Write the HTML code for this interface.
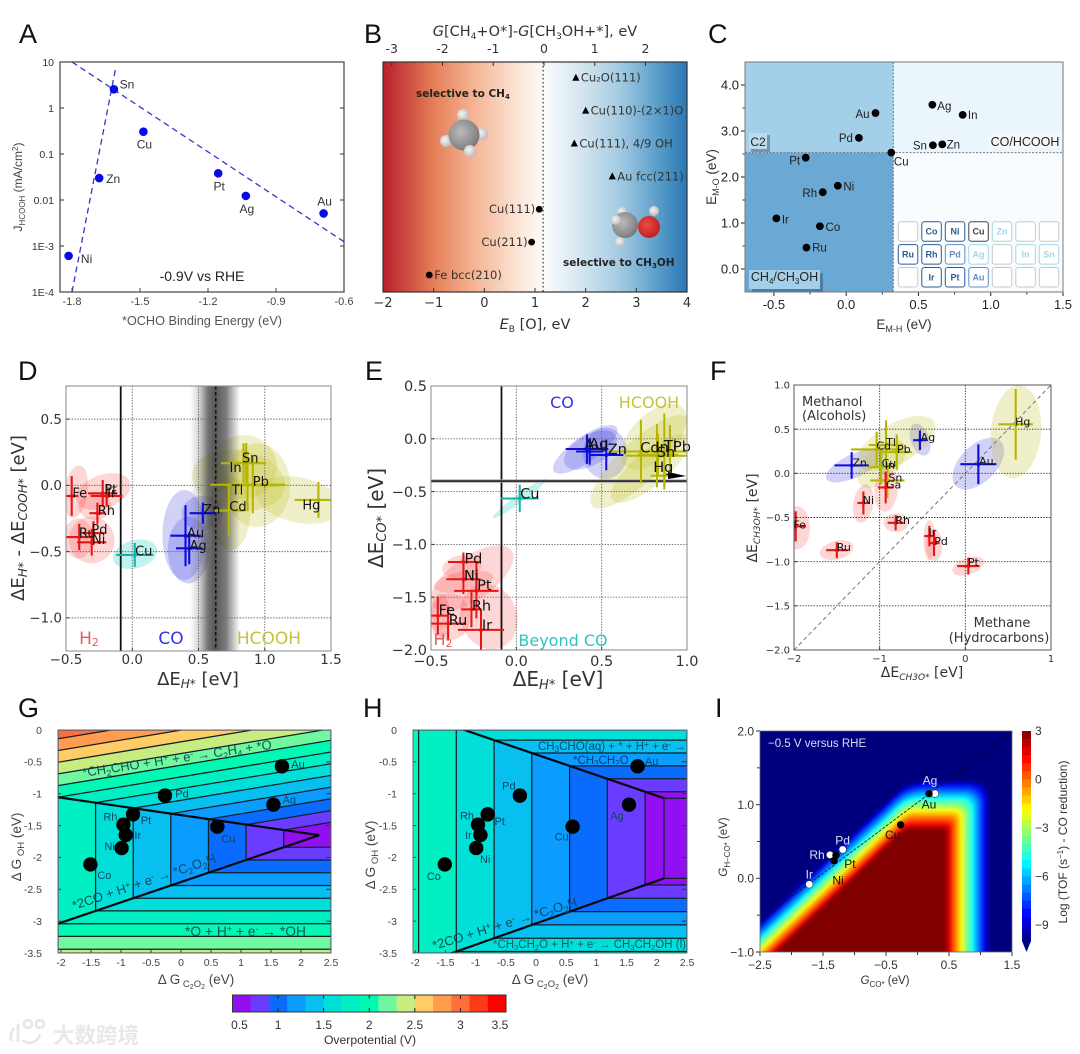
<!DOCTYPE html>
<html lang="en">
<head>
<meta charset="utf-8">
<title>Catalyst descriptor panels A-I</title>
<style>
html,body{margin:0;padding:0;background:#fff;}
#figure{display:block;width:1080px;height:1054px;filter:blur(.3px);}
text{font-family:"Liberation Sans","Noto Sans CJK SC",sans-serif;}
.dj,.dj text{font-family:"DejaVu Sans","Liberation Sans",sans-serif;}
.letter{font-size:27px;fill:#111;}
</style>
</head>
<body>
<svg id="figure" xmlns="http://www.w3.org/2000/svg" width="1080" height="1054" viewBox="0 0 1080 1054">
<defs>
<linearGradient id="bGrad" x1="0" x2="1" y1="0" y2="0">
<stop offset="0" stop-color="#b91f2b"/><stop offset=".06" stop-color="#c9413c"/><stop offset=".17" stop-color="#e58059"/><stop offset=".3" stop-color="#f5b594"/><stop offset=".42" stop-color="#fadccb"/><stop offset=".5" stop-color="#fdf4ee"/><stop offset=".54" stop-color="#f6fafc"/><stop offset=".65" stop-color="#d5e6f0"/><stop offset=".78" stop-color="#a3cae2"/><stop offset=".9" stop-color="#5c9fcb"/><stop offset="1" stop-color="#2a77b4"/>
</linearGradient>
<linearGradient id="dBand" x1="0" x2="1" y1="0" y2="0">
<stop offset="0" stop-color="#555" stop-opacity="0"/><stop offset=".18" stop-color="#555" stop-opacity=".25"/><stop offset=".36" stop-color="#444" stop-opacity=".75"/><stop offset=".5" stop-color="#444" stop-opacity=".9"/><stop offset=".72" stop-color="#444" stop-opacity=".7"/><stop offset="1" stop-color="#555" stop-opacity="0"/>
</linearGradient>
<radialGradient id="gC" cx=".4" cy=".4" r=".7"><stop offset="0" stop-color="#bbb"/><stop offset=".7" stop-color="#8a8a8a"/><stop offset="1" stop-color="#6a6a6a"/></radialGradient>
<radialGradient id="gH" cx=".4" cy=".4" r=".7"><stop offset="0" stop-color="#f4f4f4"/><stop offset="1" stop-color="#b4b4b4"/></radialGradient>
<radialGradient id="gO" cx=".4" cy=".4" r=".7"><stop offset="0" stop-color="#ee4a40"/><stop offset="1" stop-color="#b81c1c"/></radialGradient>
<clipPath id="clipA"><rect x="60" y="62" width="284" height="230"/></clipPath>
<clipPath id="clipD"><rect x="66" y="386" width="265" height="265"/></clipPath>
<clipPath id="clipE"><rect x="431" y="386" width="256" height="264"/></clipPath>
<clipPath id="clipF"><rect x="794" y="385" width="257" height="265"/></clipPath>
<clipPath id="clipG"><rect x="58" y="730" width="273" height="223"/></clipPath>
<clipPath id="clipH"><rect x="413" y="730" width="274" height="223"/></clipPath>
<clipPath id="clipI"><rect x="760" y="731" width="252" height="221"/></clipPath>
<filter id="iBlur" x="-10%" y="-10%" width="120%" height="120%"><feGaussianBlur stdDeviation="1.6"/></filter>
</defs>

<text class="letter" x="19" y="43">A</text>
<text class="letter" x="364" y="43">B</text>
<text class="letter" x="708" y="43">C</text>
<text class="letter" x="18" y="380">D</text>
<text class="letter" x="365" y="380">E</text>
<text class="letter" x="710" y="380">F</text>
<text class="letter" x="18" y="717">G</text>
<text class="letter" x="363" y="717">H</text>
<text class="letter" x="715" y="717">I</text>

<!-- Panel A -->
<g id="panelA">
<rect x="60" y="62" width="284" height="230" fill="#fff"/>
<g id="marksA" clip-path="url(#clipA)"></g>
<g id="overA"></g>
<rect x="60" y="62" width="284" height="230" fill="none" stroke="#444" stroke-width="1.2"/>
<text x="202" y="281" text-anchor="middle" font-size="14" fill="#222">-0.9V vs RHE</text>
<text x="202" y="325" text-anchor="middle" font-size="12.7" fill="#555">*OCHO Binding Energy (eV)</text>
<text transform="translate(22,187) rotate(-90)" text-anchor="middle" font-size="12" fill="#444">J<tspan dy="3" font-size="8">HCOOH</tspan><tspan dy="-3"> (mA/cm</tspan><tspan dy="-4" font-size="8">2</tspan><tspan dy="4">)</tspan></text>
</g>

<!-- Panel B -->
<g id="panelB" class="dj">
<rect x="383" y="62" width="304" height="230" fill="url(#bGrad)"/>
<g>
<circle cx="463" cy="115" r="6" fill="url(#gH)"/><circle cx="482" cy="134" r="6" fill="url(#gH)"/><circle cx="446" cy="141" r="6" fill="url(#gH)"/>
<circle cx="464" cy="135" r="15.5" fill="url(#gC)"/><circle cx="470" cy="151" r="6" fill="url(#gH)"/>
</g>
<g>
<circle cx="622" cy="212" r="5" fill="url(#gH)"/><circle cx="620" cy="242" r="5" fill="url(#gH)"/><circle cx="654" cy="211" r="5" fill="url(#gH)"/>
<circle cx="625" cy="225" r="13" fill="url(#gC)"/><circle cx="649" cy="227" r="11" fill="url(#gO)"/><circle cx="616" cy="220" r="5" fill="url(#gH)"/>
</g>
<g id="marksB"></g>
<rect x="383" y="62" width="304" height="230" fill="none" stroke="#333" stroke-width="1.2"/>
<text x="416" y="97" font-size="10.5" font-weight="bold" fill="#222">selective to CH<tspan dy="2" font-size="7">4</tspan></text>
<text x="563" y="266" font-size="10.5" font-weight="bold" fill="#222">selective to CH<tspan dy="2" font-size="7">3</tspan><tspan dy="-2">OH</tspan></text>
<text x="535" y="36" text-anchor="middle" font-size="14.5" fill="#333"><tspan font-style="italic">G</tspan>[CH<tspan dy="3" font-size="9">4</tspan><tspan dy="-3">+O*]-</tspan><tspan font-style="italic">G</tspan>[CH<tspan dy="3" font-size="9">3</tspan><tspan dy="-3">OH+*], eV</tspan></text>
<text x="535" y="329" text-anchor="middle" font-size="14.5" fill="#333"><tspan font-style="italic">E</tspan><tspan dy="3" font-size="9">B</tspan><tspan dy="-3"> [O], eV</tspan></text>
</g>

<!-- Panel C -->
<g id="panelC">
<rect x="745" y="62" width="148.3" height="90.7" fill="#a3cfe8"/>
<rect x="745" y="152.7" width="148.3" height="139.3" fill="#6ca8d4"/>
<rect x="893.3" y="62" width="169.7" height="90.7" fill="#ebf6fc"/>
<rect x="893.3" y="152.7" width="169.7" height="139.3" fill="#f8fcff"/>
<path d="M893.3 62V292M745 152.7H1063" stroke="#667" stroke-width=".9" stroke-dasharray="2 1.5" fill="none"/>
<g><rect x="751" y="135" width="19" height="17" fill="#6f97b4"/><rect x="749" y="133" width="18" height="16" fill="#bcdcee"/><text x="758" y="146" text-anchor="middle" font-size="12" fill="#222">C2</text></g>
<g><rect x="989" y="133" width="72" height="16" fill="#f4f8fa"/><text x="1025" y="146" text-anchor="middle" font-size="12.5" fill="#222">CO/HCOOH</text></g>
<g><rect x="752" y="273" width="71" height="19" fill="#4a7ea6"/><rect x="749" y="270" width="71" height="19" fill="#a4cfe8"/><text x="784.5" y="281" text-anchor="middle" font-size="12.5" fill="#222">CH<tspan dy="3" font-size="8">4</tspan><tspan dy="-3">/CH</tspan><tspan dy="3" font-size="8">3</tspan><tspan dy="-3">OH</tspan></text></g>
<g id="marksC"></g>
<rect x="745" y="62" width="318" height="230" fill="none" stroke="#777" stroke-width="1"/>
<text x="904" y="329" text-anchor="middle" font-size="13.5" fill="#333">E<tspan dy="3" font-size="9">M-H</tspan><tspan dy="-3"> (eV)</tspan></text>
<text transform="translate(716,177) rotate(-90)" text-anchor="middle" font-size="13.5" fill="#333">E<tspan dy="3" font-size="9">M-O</tspan><tspan dy="-3"> (eV)</tspan></text>
</g>

<!-- Panel D -->
<g id="panelD" class="dj">
<g id="ellD" clip-path="url(#clipD)"></g>
<rect x="190" y="386" width="50" height="265" fill="url(#dBand)"/>
<g id="marksD" clip-path="url(#clipD)"></g>
<g id="labelsD"></g>
<rect x="66" y="386" width="265" height="265" fill="none" stroke="#888" stroke-width="1"/>
<text x="89" y="644" text-anchor="middle" font-size="17" fill="#e8585c">H<tspan dy="2" font-size="11">2</tspan></text>
<text x="171" y="644" text-anchor="middle" font-size="17" fill="#3434e0">CO</text>
<text x="269" y="644" text-anchor="middle" font-size="17" fill="#c4c43c">HCOOH</text>
<text x="198" y="685" text-anchor="middle" font-size="18" fill="#333">ΔE<tspan dy="3" font-size="12" font-style="italic">H*</tspan><tspan dy="-3">  [eV]</tspan></text>
<text transform="translate(24,518) rotate(-90)" text-anchor="middle" font-size="18" fill="#333">ΔE<tspan dy="3" font-size="12" font-style="italic">H*</tspan><tspan dy="-3"> - ΔE</tspan><tspan dy="3" font-size="12" font-style="italic">COOH*</tspan><tspan dy="-3">  [eV]</tspan></text>
</g>

<!-- Panel E -->
<g id="panelE" class="dj">
<g id="ellE" clip-path="url(#clipE)"></g>
<g id="marksE" clip-path="url(#clipE)"></g>
<polygon points="668,472 686,476 668,479" fill="#000"/>
<g id="labelsE"></g>
<rect x="431" y="386" width="256" height="264" fill="none" stroke="#888" stroke-width="1"/>
<text x="562" y="408" text-anchor="middle" font-size="16" fill="#3434e0">CO</text>
<text x="649" y="408" text-anchor="middle" font-size="16" fill="#c4c43c">HCOOH</text>
<text x="563" y="646" text-anchor="middle" font-size="16" fill="#2cc4c4">Beyond CO</text>
<text x="443" y="645" text-anchor="middle" font-size="16" fill="#e8585c">H<tspan dy="2" font-size="11">2</tspan></text>
<text x="558" y="686" text-anchor="middle" font-size="20" fill="#333">ΔE<tspan dy="3" font-size="13" font-style="italic">H*</tspan><tspan dy="-3">  [eV]</tspan></text>
<text transform="translate(383,518) rotate(-90)" text-anchor="middle" font-size="20" fill="#333">ΔE<tspan dy="3" font-size="13" font-style="italic">CO*</tspan><tspan dy="-3">  [eV]</tspan></text>
</g>

<!-- Panel F -->
<g id="panelF" class="dj">
<g id="ellF" clip-path="url(#clipF)"></g>
<g id="marksF" clip-path="url(#clipF)"></g>
<g id="labelsF"></g>
<rect x="794" y="385" width="257" height="265" fill="none" stroke="#555" stroke-width="1"/>
<text x="802" y="406" font-size="13" fill="#333">Methanol</text>
<text x="802" y="420" font-size="13" fill="#333">(Alcohols)</text>
<text x="1002" y="627" text-anchor="middle" font-size="13" fill="#333">Methane</text>
<text x="999" y="642" text-anchor="middle" font-size="13" fill="#333">(Hydrocarbons)</text>
<text x="922" y="677" text-anchor="middle" font-size="14" fill="#333">ΔE<tspan dy="3" font-size="9" font-style="italic">CH3O*</tspan><tspan dy="-3">  [eV]</tspan></text>
<text transform="translate(757,518) rotate(-90)" text-anchor="middle" font-size="14" fill="#333">ΔE<tspan dy="3" font-size="9" font-style="italic">CH3OH*</tspan><tspan dy="-3">  [eV]</tspan></text>
</g>

<!-- Panel G -->
<g id="panelG">
<g id="contG" clip-path="url(#clipG)"></g>
<g id="marksG"></g>
<rect x="58" y="730" width="273" height="223" fill="none" stroke="#667" stroke-width="1"/>
<text transform="translate(83,777) rotate(-8.5)" font-size="13" fill="#0a5a50">*CH<tspan dy="3" font-size="9">2</tspan><tspan dy="-3">CHO + H</tspan><tspan dy="-4" font-size="9">+</tspan><tspan dy="4"> + e</tspan><tspan dy="-4" font-size="9">-</tspan><tspan dy="4"> → C</tspan><tspan dy="3" font-size="9">2</tspan><tspan dy="-3">H</tspan><tspan dy="3" font-size="9">4</tspan><tspan dy="-3"> + *O</tspan></text>
<text transform="translate(74,910) rotate(-18.5)" font-size="13" fill="#0a4a60">*2CO + H<tspan dy="-4" font-size="9">+</tspan><tspan dy="4"> + e</tspan><tspan dy="-4" font-size="9">-</tspan><tspan dy="4"> → *C</tspan><tspan dy="3" font-size="9">2</tspan><tspan dy="-3">O</tspan><tspan dy="3" font-size="9">2</tspan><tspan dy="-3">H</tspan></text>
<text x="185" y="936" font-size="13.8" fill="#0a5a50">*O + H<tspan dy="-4" font-size="9">+</tspan><tspan dy="4"> + e</tspan><tspan dy="-4" font-size="9">-</tspan><tspan dy="4"> → *OH</tspan></text>
<text x="196" y="984" text-anchor="middle" font-size="13.5" fill="#444">Δ G<tspan dy="3" font-size="9.5"> C</tspan><tspan dy="2" font-size="7">2</tspan><tspan dy="-2" font-size="9.5">O</tspan><tspan dy="2" font-size="7">2</tspan><tspan dy="-5"> (eV)</tspan></text>
<text transform="translate(21,847) rotate(-90)" text-anchor="middle" font-size="13.5" fill="#444">Δ G<tspan dy="3" font-size="9.5"> OH</tspan><tspan dy="-3">  (eV)</tspan></text>
</g>

<!-- Panel H -->
<g id="panelH">
<g id="contH" clip-path="url(#clipH)"></g>
<g id="marksH"></g>
<rect x="413" y="730" width="274" height="223" fill="none" stroke="#667" stroke-width="1"/>
<text x="538" y="750" font-size="11.5" fill="#0a4a70">CH<tspan dy="2" font-size="8">3</tspan><tspan dy="-2">CHO(aq) + * + H</tspan><tspan dy="-3" font-size="8">+</tspan><tspan dy="3"> + e</tspan><tspan dy="-3" font-size="8">-</tspan><tspan dy="3"> →</tspan></text>
<text x="573" y="764" font-size="11.5" fill="#0a3a80">*CH<tspan dy="2" font-size="8">3</tspan><tspan dy="-2">CH</tspan><tspan dy="2" font-size="8">2</tspan><tspan dy="-2">O</tspan></text>
<text transform="translate(434,950) rotate(-17)" font-size="13" fill="#0a4a60">*2CO + H<tspan dy="-4" font-size="9">+</tspan><tspan dy="4"> + e</tspan><tspan dy="-4" font-size="9">-</tspan><tspan dy="4"> → *C</tspan><tspan dy="3" font-size="9">2</tspan><tspan dy="-3">O</tspan><tspan dy="3" font-size="9">2</tspan><tspan dy="-3">H</tspan></text>
<text x="493" y="948" font-size="11.5" fill="#0a5a70">*CH<tspan dy="2" font-size="7.5">3</tspan><tspan dy="-2">CH</tspan><tspan dy="2" font-size="7.5">2</tspan><tspan dy="-2">O + H</tspan><tspan dy="-3" font-size="7.5">+</tspan><tspan dy="3"> + e</tspan><tspan dy="-3" font-size="7.5">-</tspan><tspan dy="3"> → CH</tspan><tspan dy="2" font-size="7.5">3</tspan><tspan dy="-2">CH</tspan><tspan dy="2" font-size="7.5">2</tspan><tspan dy="-2">OH (l)</tspan></text>
<text x="550" y="984" text-anchor="middle" font-size="13.5" fill="#444">Δ G<tspan dy="3" font-size="9.5"> C</tspan><tspan dy="2" font-size="7">2</tspan><tspan dy="-2" font-size="9.5">O</tspan><tspan dy="2" font-size="7">2</tspan><tspan dy="-5"> (eV)</tspan></text>
<text transform="translate(375,855) rotate(-90)" text-anchor="middle" font-size="13.5" fill="#444">Δ G<tspan dy="3" font-size="9.5"> OH</tspan><tspan dy="-3">  (eV)</tspan></text>
</g>

<!-- Shared colourbar -->
<g id="overBar"></g>
<text x="370" y="1044" text-anchor="middle" font-size="12.2" fill="#333">Overpotential (V)</text>

<!-- Panel I -->
<g id="panelI">
<rect x="760" y="731" width="252" height="221" fill="#00007f"/>
<g clip-path="url(#clipI)"><g id="heatI" filter="url(#iBlur)"></g></g>
<g id="marksI"></g>
<rect x="760" y="731" width="252" height="221" fill="none" stroke="#667" stroke-width=".8"/>
<g id="barI"></g>
<text x="768" y="747" font-size="11.5" fill="#d8dcf0">−0.5 V versus RHE</text>
<text x="885" y="984" text-anchor="middle" font-size="11.5" fill="#333"><tspan font-style="italic">G</tspan><tspan dy="3" font-size="8">CO*</tspan><tspan dy="-3"> (eV)</tspan></text>
<text transform="translate(727,847) rotate(-90)" text-anchor="middle" font-size="11.5" fill="#333"><tspan font-style="italic">G</tspan><tspan dy="3" font-size="8">H–CO*</tspan><tspan dy="-3"> (eV)</tspan></text>
<text transform="translate(1067,842) rotate(-90)" text-anchor="middle" font-size="12" fill="#333">Log (TOF (s<tspan dy="-4" font-size="8">−1</tspan><tspan dy="4">) - CO reduction)</tspan></text>
</g>

<!-- Watermark -->
<g opacity=".85">
<path d="M14 1028c-3 4-4 8-3 13M18 1024v18M22 1040c8 6 16 2 18-6M28 1028a4 4 0 1 1 0.1 0M40 1028a4 4 0 1 1 0.1 0" fill="none" stroke="#e2e2e2" stroke-width="2.5"/>
<text x="53" y="1043" font-size="21.5" font-weight="bold" fill="#e4e4e4" style="font-family:'Noto Sans CJK SC',sans-serif">大数跨境</text>
</g>
</svg>

<script>
// ---------- Panel A data ----------
const aMetals = ['Sn','Cu','Zn','Ni','Pt','Ag','Au'];
const aBinding = [-1.615,-1.485,-1.68,-1.815,-1.155,-1.033,-0.69];
const aCurrent = [2.55,0.305,0.03,0.00061,0.038,0.0123,0.0051];
const aLineRightX = [-1.8,-0.6];
const aLineRightY = [10,0.00124];
const aLineLeftX = [-1.8,-1.606];
const aLineLeftY = [0.0001,8];
const aXTicks = [-1.8,-1.5,-1.2,-0.9,-0.6];
const aYTicks = [10,1,0.1,0.01,0.001,0.0001];
const aYLabels = ['10','1','0.1','0.01','1E-3','1E-4'];

// ---------- Panel B data ----------
const bSites = ['Cu₂O(111)','Cu(110)-(2×1)O','Cu(111), 4/9 OH','Au fcc(211)','Cu(111)','Cu(211)','Fe bcc(210)'];
const bEnergy = [1.807,2.0,1.776,2.525,1.084,0.934,-1.087];
const bRow = [7,6,5,4,3,2,1];
const bKind = ['tri','tri','tri','tri','dot','dot','dot'];
const bCrossover = [1.16];
const bXTicks = [-2,-1,0,1,2,3,4];
const bTopTicks = [-3,-2,-1,0,1,2];

// ---------- Panel C data ----------
const cMetals = ['Au','Ag','In','Pd','Sn','Zn','Cu','Pt','Ni','Rh','Ir','Co','Ru'];
const cEH = [0.203,0.596,0.806,0.088,0.6,0.665,0.312,-0.28,-0.058,-0.162,-0.483,-0.182,-0.275];
const cEO = [3.39,3.57,3.35,2.85,2.69,2.71,2.53,2.42,1.81,1.67,1.1,0.93,0.465];
const cXTicks = [-0.5,0,0.5,1,1.5];
const cYTicks = [0,1,2,3,4];
const cTable = [['','Co','Ni','Cu','Zn','',''],['Ru','Rh','Pd','Ag','','In','Sn'],['','Ir','Pt','Au','','','']];

// ---------- Panel D data ----------
const dNames = ['Fe','Pt','Ir','Rh','Pd','Ru','Ni','Cu','Au','Ag','Zn','Cd','Tl','In','Sn','Pb','Hg'];
const dX = [-0.457,-0.223,-0.193,-0.263,-0.293,-0.4,-0.306,0.019,0.402,0.43,0.533,0.73,0.87,0.84,0.86,0.91,1.405];
const dY = [-0.08,-0.06,-0.08,-0.21,-0.36,-0.39,-0.43,-0.525,-0.38,-0.475,-0.21,-0.19,0.005,0.167,0.17,0,-0.11];
const dXErr = [0.05,0.11,0.12,0.06,0.08,0.105,0.11,0.14,0.115,0.1,0.1,0.12,0.28,0.17,0.1,0.2,0.18];
const dYErr = [0.15,0.1,0.08,0.08,0.09,0.1,0.1,0.09,0.23,0.12,0.08,0.19,0.2,0.15,0.15,0.21,0.135];
const dGroup = ['r','r','r','r','r','r','r','t','b','b','b','y','y','y','y','y','y'];
const dEllX = [-0.424,-0.218,-0.281,-0.306,-0.407,0.021,0.392,0.424,0.53,0.739,0.802,0.84,0.941,1.256];
const dEllY = [-0.047,-0.047,-0.16,-0.412,-0.4,-0.52,-0.375,-0.488,-0.21,-0.21,0.04,0.14,0,-0.11];
const dEllMajor = [0.088,0.214,0.126,0.171,0.113,0.171,0.164,0.156,0.156,0.151,0.353,0.252,0.252,0.33];
const dEllMinor = [0.2,0.126,0.1,0.176,0.151,0.106,0.34,0.252,0.131,0.277,0.227,0.239,0.315,0.17];
const dEllTilt = [8,-20,0,0,0,-15,0,0,0,0,10,0,0,12];
const dEllGroup = ['r','r','r','r','r','t','b','b','b','y','y','y','y','y'];
const dXTicks = [-0.5,0,0.5,1,1.5];
const dYTicks = [-1,-0.5,0,0.5];

// ---------- Panel E data ----------
const eNames = ['Pd','Ni','Pt','Rh','Fe','Ru','Ir','Cu','Au','Ag','Zn','Cd','In','Tl','Sn','Pb','Hg'];
const eX = [-0.31,-0.31,-0.234,-0.263,-0.46,-0.4,-0.207,0.02,0.414,0.43,0.527,0.73,0.824,0.867,0.83,0.9,0.867];
const eY = [-1.167,-1.33,-1.44,-1.615,-1.675,-1.75,-1.81,-0.565,-0.097,-0.12,-0.153,-0.12,-0.16,-0.12,-0.15,-0.12,-0.35];
const eXErr = [0.09,0.1,0.13,0.06,0.06,0.1,0.135,0.11,0.125,0.08,0.1,0.19,0.18,0.13,0.12,0.12,0.08];
const eYErr = [0.09,0.14,0.26,0.17,0.18,0.16,0.19,0.13,0.14,0.125,0.145,0.3,0.3,0.36,0.2,0.25,0.1];
const eGroup = ['r','r','r','r','r','r','r','t','b','b','b','y','y','y','y','y','y'];
const eEllX = [0.404,0.434,0.521,0.02,0.723,0.785,0.805,-0.26,-0.318,-0.309,-0.162,-0.387,-0.445];
const eEllY = [-0.1,-0.106,-0.138,-0.564,-0.217,-0.28,0.02,-1.32,-1.211,-1.353,-1.684,-1.684,-1.684];
const eEllMajor = [0.225,0.17,0.13,0.195,0.38,0.29,0.24,0.283,0.117,0.176,0.166,0.117,0.059];
const eEllMinor = [0.075,0.09,0.15,0.024,0.12,0.1,0.13,0.127,0.068,0.059,0.195,0.137,0.137];
const eEllTilt = [-35,-30,0,-36,-43,-40,-45,-35,-10,-10,-20,0,0];
const eEllGroup = ['b','b','b','t','y','y','y','r','r','r','r','r','r'];
const eXTicks = [-0.5,0,0.5,1];
const eYTicks = [-2,-1.5,-1,-0.5,0,0.5];

// ---------- Panel F data ----------
const fNames = ['Zn','Ag','Au','Hg','Cd','Tl','Pb','Cu','In','Sn','Ga','Ni','Rh','Fe','Ru','Ir','Pd','Pt'];
const fX = [-1.327,-0.53,0.152,0.588,-1.035,-0.926,-0.8,-0.985,-0.985,-0.91,-0.93,-1.19,-0.813,-1.98,-1.5,-0.42,-0.365,0.035];
const fY = [0.09,0.375,0.103,0.555,0.27,0.32,0.24,0.085,0.07,-0.08,-0.16,-0.335,-0.56,-0.6,-0.87,-0.71,-0.79,-1.05];
const fXErr = [0.2,0.08,0.21,0.2,0.3,0.2,0.18,0.02,0.15,0.2,0.09,0.07,0.095,0.12,0.125,0.06,0.065,0.13];
const fYErr = [0.15,0.11,0.225,0.4,0.2,0.28,0.2,0.12,0.2,0.2,0.18,0.13,0.085,0.17,0.09,0.115,0.145,0.095];
const fGroup = ['b','b','b','y','y','y','y','t','y','y','r','r','r','r','r','r','r','r'];
const fEllX = [-1.288,-0.529,0.152,0.591,-0.802,-0.977,-1.191,-0.926,-0.809,-1.969,-1.502,-0.42,-0.366,0.035,-0.977];
const fEllY = [0.09,0.382,0.11,0.469,0.337,0.11,-0.342,-0.191,-0.561,-0.617,-0.87,-0.757,-0.813,-1.05,0.09];
const fEllMajor = [0.37,0.109,0.37,0.292,0.506,0.35,0.117,0.136,0.144,0.156,0.202,0.07,0.097,0.195,0.03];
const fEllMinor = [0.136,0.195,0.214,0.545,0.233,0.195,0.226,0.253,0.109,0.253,0.109,0.233,0.187,0.097,0.1];
const fEllTilt = [-25,-20,-45,5,-30,-45,10,5,0,0,-15,0,0,-20,0];
const fEllGroup = ['b','b','b','y','y','y','r','r','r','r','r','r','r','r','t'];
const fXTicks = [-2,-1,0,1];
const fYTicks = [-2,-1.5,-1,-0.5,0,0.5,1];

// ---------- Panels G / H data ----------
const ghMetals = ['Au','Pd','Ag','Pt','Cu','Rh','Ir','Ni','Co'];
const ghC2O2 = [1.683,-0.267,1.54,-0.8,0.606,-0.96,-0.92,-0.99,-1.51];
const ghOH = [-0.57,-1.03,-1.172,-1.324,-1.518,-1.486,-1.648,-1.853,-2.11];
const gPlaneConst = [1.246,2.702,-1.14];
const gPlaneSlopeX = [-0.319,-0.17,0];
const gPlaneSlopeY = [0,1.09,-1];
const gLevels = [0.7,0.9,1.1,1.3,1.5,1.7,1.9,2.1,2.3,2.5,2.7,2.9,3.1,3.3];
const gRidgeFloor = [0];
const hPlaneConst = [1.278,1.657,-1.631];
const hPlaneSlopeX = [-0.32,0,0];
const hPlaneSlopeY = [0,0.988,-0.958];
const hLevels = [0.6,0.7,0.9,1.1,1.3,1.5,1.7,1.9,2.1,2.3];
const hRidgeFloor = [0.6];
const ghXTicks = [-2,-1.5,-1,-0.5,0,0.5,1,1.5,2,2.5];
const ghYTicks = [0,-0.5,-1,-1.5,-2,-2.5,-3,-3.5];
const ghXLabels = ['-2','-1.5','-1','-0.5','0','0.5','1','1.5','2','2.5'];
const ghYLabels = ['0','-0.5','-1','-1.5','-2','-2.5','-3','-3.5'];
const overBands = ['#9010f2','#6a3cff','#0a6cff','#0a9cff','#08c0f0','#00e0d8','#00f0c4','#00fab4','#70f8a0','#c8ec80','#ffcc66','#ff9c50','#ff7038','#ff3a18','#ff0000'];
const overTicks = [0.5,1,1.5,2,2.5,3,3.5];

// ---------- Panel I data ----------
const iMetals = ['Ag','Au','Cu','Pd','Rh','Pt','Ni','Ir'];
const iGCO = [0.278,0.183,-0.267,-1.188,-1.389,-1.294,-1.325,-1.717];
const iGHCO = [1.15,1.15,0.727,0.391,0.318,0.314,0.241,-0.082];
const iOpen = [true,false,false,true,true,false,false,true];
const iScalingX = [-2.5,1.47];
const iScalingY = [-0.573,1.97];
const tofLevels = [-9,-8,-7,-6,-5,-4,-3,-2,-1,0,1,2,3];
const tofDiagX = [-1.75,-1.69,-1.63,-1.57,-1.51,-1.45,-1.39,-1.33,-1.27,-1.21,-1.15,-1.09,-1.03];
const tofTopY = [1.31,1.26,1.21,1.16,1.11,1.06,1.0,0.95,0.9,0.85,0.79,0.73,0.68];
const tofRightX = [1.124,1.056,1.003,0.95,0.897,0.844,0.78,0.727,0.675,0.622,0.569,0.526,0.463];
const tofDiagSlope = [0.816];
const iXTicks = [-2.5,-1.5,-0.5,0.5,1.5];
const iXMinor = [-2,-1,0,1];
const iYTicks = [-1,0,1,2];
const iYMinor = [-0.5,0.5,1.5];
const iBarTicks = [3,0,-3,-6,-9];
const iBarLabels = ['3','0','−3','−6','−9'];

// ---------- Label placement (pixel nudges, not data) ----------
const aNudge = {Sn:[13,-5],Cu:[1,13],Zn:[14,1],Ni:[18,3],Pt:[1,13],Ag:[1,13],Au:[1,-12]};
const cNudge = {Au:[-13,1],Ag:[12,1],In:[10,0],Pd:[-13,0],Sn:[-13,0],Zn:[11,0],Cu:[10,9],Pt:[-11,3],Ni:[11,1],Rh:[-13,1],Ir:[9,1],Co:[13,1],Ru:[13,0]};
const dNudge = {Fe:[8,-3],Pt:[8,-4],Ir:[5,-3],Rh:[9,-3],Pd:[6,-4],Ru:[8,-4],Ni:[7,-3],Cu:[9,-4],Au:[10,-3],Ag:[9,-3],Zn:[9,-4],Cd:[9,-4],Tl:[-10,5],In:[-8,4],Sn:[4,-5],Pb:[8,-4],Hg:[-7,5]};
const eNudge = {Pd:[10,-4],Ni:[8,-4],Pt:[8,-6],Rh:[10,-4],Fe:[9,-6],Ru:[10,-4],Ir:[6,-5],Cu:[10,-5],Au:[7,-5],Ag:[9,-8],Zn:[11,-6],Cd:[9,-4],In:[5,-9],Tl:[6,-6],Sn:[8,-3],Pb:[12,-5],Hg:[-1,-9]};
const fNudge = {Zn:[8,-3],Ag:[8,-3],Au:[8,-3],Hg:[7,-3],Cd:[7,-4],Tl:[5,-3],Pb:[7,-3],Cu:[8,-3],In:[9,-2],Sn:[8,-3],Ga:[8,-3],Ni:[5,-3],Rh:[7,-3],Fe:[4,-2],Ru:[7,-3],Ir:[3,-4],Pd:[7,-2],Pt:[5,-4]};
const gNudge = {Au:[16,-2],Pd:[17,-2],Ag:[16,-5],Pt:[13,6],Cu:[11,12],Rh:[-13,-8],Ir:[12,0],Ni:[-12,-2],Co:[14,11]};
const hNudge = {Au:[14,-5],Pd:[-11,-10],Ag:[-12,11],Pt:[12,7],Cu:[-11,10],Rh:[-11,-9],Ir:[-12,0],Ni:[9,11],Co:[-11,12]};
const iNudge = {Ag:[-5,-13],Au:[0,11],Cu:[-8,10],Pd:[0,-9],Rh:[-13,0],Pt:[14,9],Ni:[4,20],Ir:[0,-10]};

// ---------- Helpers ----------
const NS = 'http://www.w3.org/2000/svg';
const $ = id => document.getElementById(id);
const scale = (d0,d1,r0,r1) => v => r0 + (v-d0)/(d1-d0)*(r1-r0);
function mk(tag,parent,name,attrs){
  const el = document.createElementNS(NS,tag);
  
  
  for(const k in attrs) el.setAttribute(k,attrs[k]);
  parent.appendChild(el);
  return el;
}
function txt(parent,name,str,x,y,size,fill,anchor){
  const el = mk('text',parent,name,{x:x,y:y,'font-size':size,fill:fill,'text-anchor':anchor||'middle'});
  el.textContent = str;
  return el;
}
const fmt1 = v => (v<0?'−':'')+Math.abs(v).toFixed(1);
const GROUP = {
  r:{bar:'#e81414',fill:'rgba(245,50,50,.2)'},
  b:{bar:'#0c0cdc',fill:'rgba(50,50,225,.22)'},
  y:{bar:'#b6b600',fill:'rgba(190,190,30,.24)'},
  t:{bar:'#10b4ac',fill:'rgba(20,205,195,.26)'}
};
function xTicks(g,name,sx,vals,labs,y0,y1,base,size,color){
  vals.forEach((v,i)=>{
    mk('line',g,name+'-tick',{x1:sx(v),x2:sx(v),y1:y0,y2:y1,stroke:color||'#333','stroke-width':1});
    if(labs) txt(g,name+'-tick-label',labs[i],sx(v),base,size,color);
  });
}
function yTicks(g,name,sy,vals,labs,x0,x1,lx,size,color,dyv){
  vals.forEach((v,i)=>{
    mk('line',g,name+'-tick',{x1:x0,x2:x1,y1:sy(v),y2:sy(v),stroke:color||'#333','stroke-width':1});
    if(labs) txt(g,name+'-tick-label',labs[i],lx,sy(v)+(dyv===undefined?size*0.36:dyv),size,color,'end');
  });
}
function grid(g,name,sx,sy,xs,ys,x0,x1,y0,y1,color){
  xs.forEach(v=>{
    mk('line',g,name+'-gridline-x',{x1:sx(v),x2:sx(v),y1:y0,y2:y1,stroke:color,'stroke-width':.9,'stroke-dasharray':'1.4 1.4'});
  });
  ys.forEach(v=>{
    mk('line',g,name+'-gridline-y',{x1:x0,x2:x1,y1:sy(v),y2:sy(v),stroke:color,'stroke-width':.9,'stroke-dasharray':'1.4 1.4'});
  });
}
function ellipses(g,name,sx,sy,ex,ey,ea,eb,et,eg){
  const k = Math.abs(sx(1)-sx(0));
  ex.forEach((v,i)=>{
    const cx=sx(v), cy=sy(ey[i]);
    mk('ellipse',g,name+'-ellipse',{cx:cx,cy:cy,rx:ea[i]*k,ry:eb[i]*k,fill:GROUP[eg[i]].fill,transform:'rotate('+et[i]+' '+cx+' '+cy+')'});
  });
}
function crosses(g,lg,name,sx,sy,names,xs,ys,xe,ye,grp,nudge,fs,bw){
  names.forEach((n,i)=>{
    const cx=sx(xs[i]), cy=sy(ys[i]), c=GROUP[grp[i]].bar;
    mk('line',g,name+'-xerror-'+n.toLowerCase(),{x1:sx(xs[i]-xe[i]),x2:sx(xs[i]+xe[i]),y1:cy,y2:cy,stroke:c,'stroke-width':bw});
    mk('line',g,name+'-yerror-'+n.toLowerCase(),{x1:cx,x2:cx,y1:sy(ys[i]-ye[i]),y2:sy(ys[i]+ye[i]),stroke:c,'stroke-width':bw});
    mk('circle',g,name+'-point-'+n.toLowerCase(),{cx:cx,cy:cy,r:1.6,fill:'none',stroke:c,'stroke-width':.7});
    const nd=nudge[n]||[6,-3];
    txt(lg,name+'-label-'+n.toLowerCase(),n,cx+nd[0],cy+nd[1]+fs*.36,fs,'#111');
  });
}
function clipHalf(poly,c,ax,ay,L){
  const out=[], f=p=>c+ax*p[0]+ay*p[1]-L;
  for(let i=0;i<poly.length;i++){
    const p=poly[i], q=poly[(i+1)%poly.length], fp=f(p), fq=f(q);
    if(fp<=0) out.push(p);
    if((fp<0&&fq>0)||(fp>0&&fq<0)){
      const t=fp/(fp-fq);
      out.push([p[0]+t*(q[0]-p[0]),p[1]+t*(q[1]-p[1])]);
    }
  }
  return out;
}
function bandColor(L){
  const idx=Math.max(0,Math.min(overBands.length-1,Math.ceil((L-0.5)/0.2-1e-6)-1));
  return overBands[idx];
}
function contours(g,name,sx,sy,xmin,xmax,ymin,ymax,levels,pc,psx,psy,floor){
  mk('rect',g,name+'-base-band',{x:sx(xmin),y:sy(ymax),width:sx(xmax)-sx(xmin),height:sy(ymin)-sy(ymax),fill:bandColor(levels[levels.length-1]+0.2)});
  const desc=levels.slice().sort((a,b)=>b-a);
  desc.forEach(L=>{
    let poly=[[xmin,ymin],[xmax,ymin],[xmax,ymax],[xmin,ymax]];
    pc.forEach((c,i)=>{ poly=clipHalf(poly,c,psx[i],psy[i],L); });
    if(poly.length<3) return;
    const d=poly.map(p=>sx(p[0]).toFixed(1)+','+sy(p[1]).toFixed(1)).join(' ');
    mk('polygon',g,name+'-band-'+String(L).replace('.','p'),{points:d,fill:bandColor(L),stroke:'#102028','stroke-width':1.25,'stroke-linejoin':'miter'});
  });
  // thick ridge lines where the limiting planes meet; they stop at the apex or at the floor level
  const solveX=(j,k)=>{
    const yj=(x)=>(pc[0]+psx[0]*x-pc[j]-psx[j]*x)/psy[j];
    let lo=xmin,hi=xmax+6;
    const diff=x=>{const y=yj(x);return pc[k]+psx[k]*x+psy[k]*y-(pc[0]+psx[0]*x);};
    for(let n=0;n<60;n++){const m=(lo+hi)/2; if(diff(lo)*diff(m)<=0)hi=m; else lo=m;}
    return (lo+hi)/2;
  };
  const floorX=(floor-pc[0])/psx[0];
  [[1,2],[2,1]].forEach(pair=>{
    const j=pair[0],k=pair[1],vx=Math.min(solveX(j,k),floorX);
    const yAt=x=>(pc[0]+psx[0]*x-pc[j]-psx[j]*x)/psy[j];
    mk('line',g,name+'-ridge-'+j,{x1:sx(xmin-1),y1:sy(yAt(xmin-1)),x2:sx(vx),y2:sy(yAt(vx)),stroke:'#06090c','stroke-width':2.2});
  });
}
function jet(v){
  const t=(v+10)/13, cl=x=>Math.max(0,Math.min(1,x));
  const r=cl(1.5-Math.abs(4*t-3)), gg=cl(1.5-Math.abs(4*t-2)), b=cl(1.5-Math.abs(4*t-1));
  return 'rgb('+Math.round(r*255)+','+Math.round(gg*255)+','+Math.round(b*255)+')';
}

// ---------- Panel A ----------
(function(){
  const sx=scale(-1.8,-0.6,72,344), sy=v=>62+(1-Math.log10(v))*46;
  const g=$('marksA'), o=$('overA');
  [[aLineRightX,aLineRightY,'scaling-line-right'],[aLineLeftX,aLineLeftY,'scaling-line-left']].forEach(s=>{
    mk('line',g,s[2],{x1:sx(s[0][0]),y1:sy(s[1][0]),x2:sx(s[0][1]),y2:sy(s[1][1]),stroke:'#3636c8','stroke-width':1.3,'stroke-dasharray':'6 4'});
  });
  xTicks(o,'x-a',sx,aXTicks,aXTicks.map(v=>v.toFixed(1)),292,288,305,11,'#444');
  yTicks(o,'y-a',sy,aYTicks,aYLabels,60,64,54,10.5,'#333');
  yTicks(o,'y-right-a',sy,aYTicks,null,344,340);
  aMetals.forEach((m,i)=>{
    const cx=sx(aBinding[i]), cy=sy(aCurrent[i]);
    mk('circle',g,'point-a-'+m.toLowerCase(),{cx:cx,cy:cy,r:4.3,fill:'#0a0ae6'});
    const nd=aNudge[m];
    txt(o,'label-a-'+m.toLowerCase(),m,cx+nd[0],cy+nd[1]+4,12,'#333');
  });
})();

// ---------- Panel B ----------
(function(){
  const sx=scale(-2,4,383,687), st=scale(0,2,544,645.5), sy=scale(1,7,275,77.7);
  const g=$('marksB');
  bCrossover.forEach(v=>{
    mk('line',g,'crossover-line',{x1:sx(v),x2:sx(v),y1:62,y2:292,stroke:'#222','stroke-width':1.1,'stroke-dasharray':'1.5 2.5'});
  });
  xTicks(g,'x-b',sx,bXTicks,bXTicks.map(v=>(v<0?'−':'')+Math.abs(v)),292,288,307,13,'#333');
  xTicks(g,'x-top-b',st,bTopTicks,bTopTicks.map(String),62,66,53,12.5,'#333');
  bSites.forEach((s,i)=>{
    const cx=sx(bEnergy[i]), cy=sy(bRow[i]);
    if(bKind[i]==='tri'){
      mk('polygon',g,'site-marker-'+i,{points:(cx-3.6)+','+(cy+3)+' '+(cx+3.6)+','+(cy+3)+' '+cx+','+(cy-4),fill:'#000'});
      txt(g,'site-label-'+i,s,cx+5,cy+4,11.5,'#333','start');
    } else {
      mk('circle',g,'site-marker-'+i,{cx:cx,cy:cy,r:3.4,fill:'#000'});
      if(bEnergy[i]>0) txt(g,'site-label-'+i,s,cx-4,cy+4,11.5,'#333','end');
      else txt(g,'site-label-'+i,s,cx+5,cy+4,11.5,'#333','start');
    }
  });
})();

// ---------- Panel C ----------
(function(){
  const sx=scale(-0.7,1.5,745,1063), sy=scale(-0.5,4.5,292,62);
  const g=$('marksC');
  xTicks(g,'x-c',sx,cXTicks,cXTicks.map(v=>(v<0?'-':'')+Math.abs(v).toFixed(1)),292,296,309,13,'#222');
  yTicks(g,'y-c',sy,cYTicks,cYTicks.map(v=>v.toFixed(1)),745,741,739,13,'#222');
  xTicks(g,'x-minor-c',sx,[-0.25,0.25,0.75,1.25],null,292,294.5);
  yTicks(g,'y-minor-c',sy,[0.5,1.5,2.5,3.5],null,745,742.5);
  const pal={Co:'#2a5c96',Ni:'#2a5c96',Ru:'#2a5c96',Rh:'#2a5c96',Ir:'#2a5c96',Pt:'#2a5c96',Pd:'#5a90c6',Au:'#5a90c6',Cu:'#444',Ag:'#a4d6e6',Zn:'#a4d6e6',In:'#a4d6e6',Sn:'#a4d6e6'};
  cTable.forEach((row,r)=>{
    row.forEach((el,c)=>{
      const x=898.3+c*23.5, y=221.7+r*22.9;
      mk('rect',g,'table-cell-'+r+'-'+c,{x:x,y:y,width:19.5,height:19.5,rx:2.5,fill:'#fff',stroke:el?pal[el]:'#c8c8c8','stroke-width':1});
      if(el){
        txt(g,'table-element-'+el.toLowerCase(),el,x+9.7,y+13,9,pal[el]).setAttribute('font-weight','bold');
      }
    });
  });
  cMetals.forEach((m,i)=>{
    const cx=sx(cEH[i]), cy=sy(cEO[i]);
    mk('circle',g,'point-c-'+m.toLowerCase(),{cx:cx,cy:cy,r:3.9,fill:'#000'});
    const nd=cNudge[m];
    txt(g,'label-c-'+m.toLowerCase(),m,cx+nd[0],cy+nd[1]+4,11.5,'#222');
  });
})();

// ---------- Panel D ----------
(function(){
  const sx=scale(-0.5,1.5,66,331), sy=scale(-1.25,0.75,651,386);
  ellipses($('ellD'),'d',sx,sy,dEllX,dEllY,dEllMajor,dEllMinor,dEllTilt,dEllGroup);
  const g=$('marksD'), p=$('labelsD');
  grid(g,'d',sx,sy,[0,0.5,1],dYTicks,66,331,386,651,'#666');
  mk('line',g,'limit-line-solid-d',{x1:sx(-0.087),x2:sx(-0.087),y1:386,y2:651,stroke:'#111','stroke-width':1.8});
  mk('line',g,'limit-line-dashed-d',{x1:sx(0.63),x2:sx(0.63),y1:386,y2:651,stroke:'#111','stroke-width':1.5,'stroke-dasharray':'3.5 2.5'});
  crosses(g,p,'d',sx,sy,dNames,dX,dY,dXErr,dYErr,dGroup,dNudge,13,2.1);
  xTicks(p,'x-d',sx,dXTicks,dXTicks.map(fmt1),651,648,664,13.5,'#333');
  yTicks(p,'y-d',sy,dYTicks,dYTicks.map(fmt1),66,69,62,13.5,'#333');
})();

// ---------- Panel E ----------
(function(){
  const sx=scale(-0.5,1,431,687), sy=scale(-2,0.5,650,386);
  ellipses($('ellE'),'e',sx,sy,eEllX,eEllY,eEllMajor,eEllMinor,eEllTilt,eEllGroup);
  const g=$('marksE'), p=$('labelsE');
  grid(g,'e',sx,sy,[0,0.5],[-1.5,-1,-0.5,0],431,687,386,650,'#666');
  mk('line',g,'limit-line-vertical-e',{x1:sx(-0.087),x2:sx(-0.087),y1:386,y2:650,stroke:'#111','stroke-width':1.8});
  mk('line',g,'limit-line-halo-e',{x1:431,x2:687,y1:sy(-0.4),y2:sy(-0.4),stroke:'#aaa','stroke-width':3.4});
  mk('line',g,'limit-line-horizontal-e',{x1:431,x2:687,y1:sy(-0.4),y2:sy(-0.4),stroke:'#222','stroke-width':1.6});
  crosses(g,p,'e',sx,sy,eNames,eX,eY,eXErr,eYErr,eGroup,eNudge,14.5,2);
  xTicks(p,'x-e',sx,eXTicks,eXTicks.map(fmt1),650,647,666,14.5,'#333');
  yTicks(p,'y-e',sy,eYTicks,eYTicks.map(fmt1),431,434,427,14.5,'#333');
})();

// ---------- Panel F ----------
(function(){
  const sx=scale(-2,1,794,1051), sy=scale(-2,1,650,385);
  ellipses($('ellF'),'f',sx,sy,fEllX,fEllY,fEllMajor,fEllMinor,fEllTilt,fEllGroup);
  const g=$('marksF'), p=$('labelsF');
  grid(g,'f',sx,sy,[-1,0],[-1.5,-1,-0.5,0,0.5],794,1051,385,650,'#333');
  mk('line',g,'parity-line-f',{x1:sx(-2),y1:sy(-2),x2:sx(1),y2:sy(1),stroke:'#777','stroke-width':1,'stroke-dasharray':'4 3'});
  crosses(g,p,'f',sx,sy,fNames,fX,fY,fXErr,fYErr,fGroup,fNudge,11,2.1);
  xTicks(p,'x-f',sx,fXTicks,fXTicks.map(v=>(v<0?'−':'')+Math.abs(v)),650,647,662,10,'#333');
  yTicks(p,'y-f',sy,fYTicks,fYTicks.map(fmt1),794,797,790,10,'#333');
})();

// ---------- Panels G, H ----------
function ghPanel(id,cid,name,sx,sy,xmin,levels,pc,psx,psy,floor,nudge,left,right){
  contours($(cid),name,sx,sy,xmin,2.5,-3.5,0,levels,pc,psx,psy,floor);
  const g=$(id);
  ghMetals.forEach((m,i)=>{
    const cx=sx(ghC2O2[i]), cy=sy(ghOH[i]);
    mk('circle',g,'point-'+name+'-'+m.toLowerCase(),{cx:cx,cy:cy,r:7.2,fill:'#000'});
    const nd=nudge[m];
    txt(g,'label-'+name+'-'+m.toLowerCase(),m,cx+nd[0],cy+nd[1]+3.8,11,'#0c4660');
  });
  xTicks(g,'x-'+name,sx,ghXTicks,ghXLabels,953,950,966,10.5,'#444');
  yTicks(g,'y-'+name,sy,ghYTicks,ghYLabels,left,left+3,left-16,10.5,'#444');
  yTicks(g,'y-right-'+name,sy,ghYTicks,null,right,right-5);
}
ghPanel('marksG','contG','g',scale(0,2.5,181,331),scale(0,-3.5,730,953),-2.05,gLevels,gPlaneConst,gPlaneSlopeX,gPlaneSlopeY,gRidgeFloor[0],gNudge,58,331);
ghPanel('marksH','contH','h',scale(0,2.5,536,687),scale(0,-3.5,730,953),-2.04,hLevels,hPlaneConst,hPlaneSlopeX,hPlaneSlopeY,hRidgeFloor[0],hNudge,413,687);

// ---------- Overpotential colourbar ----------
(function(){
  const sb=scale(0.5,3.5,232.5,506), g=$('overBar');
  overBands.forEach((c,i)=>{
    const lo=0.5+0.2*i;
    mk('rect',g,'overpotential-band-'+i,{x:sb(lo),y:995,width:sb(lo+0.2)-sb(lo)+.4,height:17,fill:c});
  });
  mk('rect',g,'overpotential-colorbar-frame',{x:232.5,y:995,width:273.5,height:17,fill:'none',stroke:'#333','stroke-width':1});
  overTicks.forEach(v=>{
    if(v>0.5&&v<3.5){
      mk('line',g,'overpotential-tick',{x1:sb(v),x2:sb(v),y1:995,y2:1012,stroke:'#222','stroke-width':1,'stroke-dasharray':'4 9'});
    }
    txt(g,'overpotential-tick-label',String(v),sb(v)+(v===0.5?7:0)-(v===3.5?6:0),1029,12,'#333');
  });
})();

// ---------- Panel I ----------
(function(){
  const sx=scale(-2.5,1.5,760,1012), sy=scale(-1,2,952,731), h=$('heatI'), g=$('marksI');
  tofLevels.forEach((L,i)=>{
    const m=tofDiagSlope[0], xd=tofDiagX[i], top=tofTopY[i], right=tofRightX[i];
    const P0=[sx(xd+(-1.2)/m),sy(-1.2)], C1=[sx(xd+top/m),sy(top)], C2=[sx(right),sy(top)], P3=[sx(right),sy(-1.2)];
    const r=5+(3-L)*1.1;
    const along=(a,b,d)=>{const dx=b[0]-a[0],dy=b[1]-a[1],n=Math.hypot(dx,dy);return [a[0]+dx/n*d,a[1]+dy/n*d];};
    const a1=along(C1,P0,r), a2=along(C1,C2,r), b1=along(C2,C1,r), b2=along(C2,P3,r);
    const d='M'+P0[0]+' '+P0[1]+'L'+a1[0]+' '+a1[1]+'Q'+C1[0]+' '+C1[1]+' '+a2[0]+' '+a2[1]+'L'+b1[0]+' '+b1[1]+'Q'+C2[0]+' '+C2[1]+' '+b2[0]+' '+b2[1]+'L'+P3[0]+' '+P3[1]+'Z';
    mk('path',h,'heatmap-level-'+i,{d:d,fill:jet(L)});
  });
  mk('line',g,'scaling-line-i',{x1:sx(iScalingX[0]),y1:sy(iScalingY[0]),x2:sx(iScalingX[1]),y2:sy(iScalingY[1]),stroke:'#111','stroke-width':.8,'stroke-dasharray':'3 1.5'});
  xTicks(g,'x-i',sx,iXTicks,iXTicks.map(fmt1),952,956,969,12,'#333');
  xTicks(g,'x-minor-i',sx,iXMinor,null,952,955);
  yTicks(g,'y-i',sy,iYTicks,iYTicks.map(fmt1),760,756,754,12,'#333');
  yTicks(g,'y-minor-i',sy,iYMinor,null,760,757);
  iMetals.forEach((m,i)=>{
    const cx=sx(iGCO[i]), cy=sy(iGHCO[i]);
    mk('circle',g,'point-i-'+m.toLowerCase(),{cx:cx,cy:cy,r:3.7,fill:iOpen[i]?'#fff':'#000',stroke:'#111','stroke-width':iOpen[i]?.5:0});
    const nd=iNudge[m];
    txt(g,'label-i-'+m.toLowerCase(),m,cx+nd[0],cy+nd[1]+4,12,iOpen[i]?'#d4e0f8':'#111');
  });
  const bg=$('barI'), sc=scale(3,-10,731,941);
  for(let v=3;v>-10;v-=0.5){
    mk('rect',bg,'tof-colorbar-step',{x:1022,y:sc(v),width:9,height:sc(v-0.5)-sc(v)+.4,fill:jet(v-0.25)});
  }
  mk('polygon',bg,'tof-colorbar-extend',{points:'1022,941 1031,941 1026.5,952',fill:'#00007f'});
  iBarTicks.forEach((v,i)=>{
    txt(bg,'tof-colorbar-label',iBarLabels[i],1035,sc(v)+4,12,'#333','start');
  });
})();
</script>
</body>
</html>
